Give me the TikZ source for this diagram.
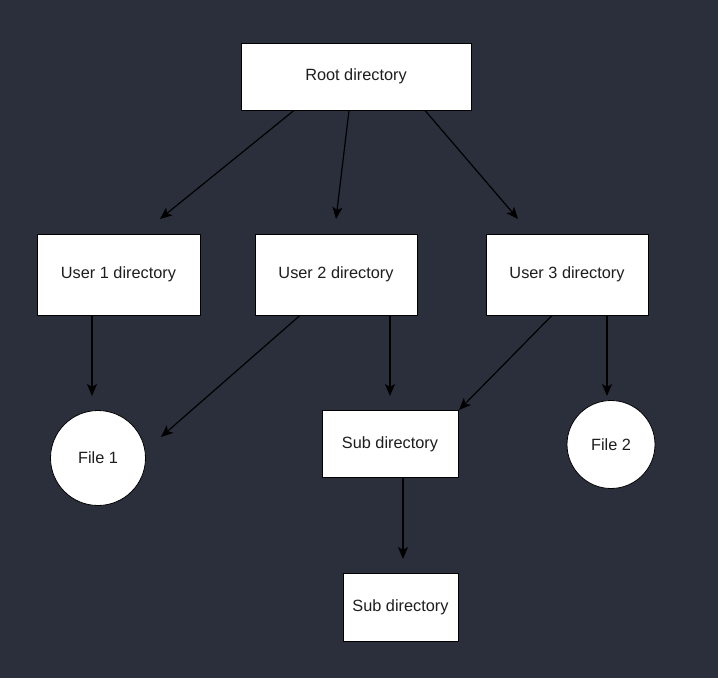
\documentclass[tikz,border=0pt]{standalone}
\usepackage{fontspec}
\setmainfont{Liberation Sans}
\usepackage{xcolor}
\usetikzlibrary{arrows.meta}
\definecolor{bgdark}{RGB}{43,47,60}
\definecolor{txtdark}{RGB}{30,30,30}

\tikzset{
	dirbox/.style={draw=black, fill=white, line width=0.8pt, text=txtdark, inner sep=0pt, font=\fontsize{16.3}{19}\selectfont},
	filenode/.style={circle, draw=black, fill=white, line width=0.8pt, text=txtdark, inner sep=0pt, font=\fontsize{16.3}{19}\selectfont},
	link/.style={draw=black, line width=1.2pt, -{Stealth[length=12pt,width=10pt,inset=3pt]}}
}

\begin{document}
\begin{tikzpicture}[x=1pt,y=-1pt]
	% canvas
	\fill[bgdark] (0,0) rectangle (718,678);
	\useasboundingbox (0,0) rectangle (718,678);
	
	% directories and files
	\node[dirbox, minimum width=230pt, minimum height=67pt] (root) at (356,76.5) {Root directory};
	\node[dirbox, minimum width=163pt, minimum height=81pt] (user1) at (118.5,274.5) {User 1 directory};
	\node[dirbox, minimum width=162pt, minimum height=81pt] (user2) at (336,274.5) {User 2 directory};
	\node[dirbox, minimum width=162pt, minimum height=81pt] (user3) at (567,274.5) {User 3 directory};
	\node[filenode, minimum size=95pt] (file1) at (98,458) {File 1};
	\node[dirbox, minimum width=136pt, minimum height=67pt] (sub1) at (390,444) {Sub directory};
	\node[filenode, minimum size=88pt] (file2) at (611,444.5) {File 2};
	\node[dirbox, minimum width=115pt, minimum height=68pt] (sub2) at (400.5,607) {Sub directory};
	
	% arrow ends, short of the targets
	\coordinate (tipA) at (160,219);
	\coordinate (tipB) at (336,219);
	\coordinate (tipC) at (518,219);
	\coordinate (tipD) at (92,396);
	\coordinate (tipE) at (161,437);
	\coordinate (tipF) at (390,396);
	\coordinate (tipG) at (459,410);
	\coordinate (tipH) at (607,396);
	\coordinate (tipI) at (403,559);
	
	% connectors
	\draw[link] ([xshift=-62pt]root.south) -- (tipA);
	\draw[link] ([xshift=-7pt]root.south) -- (tipB);
	\draw[link] ([xshift=69pt]root.south) -- (tipC);
	\draw[link] ([xshift=-26.5pt]user1.south) -- (tipD);
	\draw[link] ([xshift=-36pt]user2.south) -- (tipE);
	\draw[link] ([xshift=54pt]user2.south) -- (tipF);
	\draw[link] ([xshift=-15pt]user3.south) -- (tipG);
	\draw[link] ([xshift=40pt]user3.south) -- (tipH);
	\draw[link] ([xshift=13pt]sub1.south) -- (tipI);
\end{tikzpicture}
\end{document}
